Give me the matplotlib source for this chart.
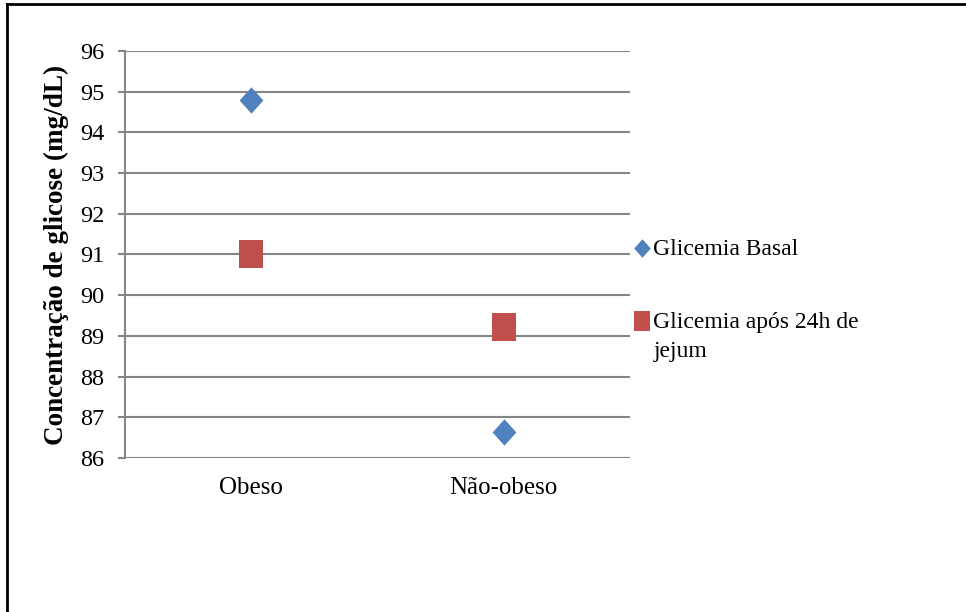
import matplotlib
matplotlib.use("Agg")
import matplotlib.pyplot as plt
from matplotlib.lines import Line2D
from matplotlib.offsetbox import HPacker

# Data
groups = ["Obeso", "Não-obeso"]
glicemia_basal = [94.8, 86.65]
glicemia_jejum = [91.0, 89.22]
series_labels = ["Glicemia Basal", "Glicemia após 24h de\njejum"]
y_ticks = list(range(86, 97))

BLUE = "#4F81BD"
RED = "#C0504D"
GRID = "#868686"

plt.rcParams["font.family"] = ["Liberation Serif", "DejaVu Serif"]

fig = plt.figure(figsize=(9.66, 6.12), dpi=100)
ax = fig.add_axes([125 / 966, 1 - 458 / 612, (630 - 125) / 966, (458 - 51) / 612])

# Custom marker shapes (slightly taller than wide)
diamond = [(0, 1), (0.9, 0), (0, -1), (-0.9, 0), (0, 1)]
square = [(-0.86, -1), (0.86, -1), (0.86, 1), (-0.86, 1), (-0.86, -1)]

x = [0.5, 1.5]
ax.plot(x, glicemia_basal, linestyle="none", marker=diamond, markersize=19,
        color=BLUE, markeredgewidth=0, label=series_labels[0], zorder=3)
ax.plot(x, glicemia_jejum, linestyle="none", marker=square, markersize=20,
        color=RED, markeredgewidth=0, label=series_labels[1], zorder=3)

ax.set_xlim(0, 2)
ax.set_ylim(86, 96)
ax.set_yticks(y_ticks)
ax.set_xticks(x)
ax.set_xticklabels(groups)
ax.yaxis.grid(True, color=GRID, linewidth=1.5)
ax.set_axisbelow(True)

for side in ["top", "right", "bottom"]:
    ax.spines[side].set_visible(False)
ax.spines["left"].set_color(GRID)
ax.spines["left"].set_linewidth(1.5)

ax.tick_params(axis="y", direction="out", length=5, width=1.5, color=GRID,
               labelsize=17.5, pad=10)
ax.tick_params(axis="x", length=0, labelsize=18, pad=14)

ax.set_ylabel("Concentração de glicose (mg/dL)", fontsize=19.5, fontweight="bold",
              labelpad=8)

leg = ax.legend(loc="upper left", bbox_to_anchor=(625 / 966, 1 - 230 / 612),
                bbox_transform=fig.transFigure, frameon=False, fontsize=17,
                handlelength=0.6, handletextpad=0.2, labelspacing=2.2,
                borderaxespad=0, markerscale=0.7)
for t in leg.get_texts():
    t.set_linespacing(1.5)
# Align each legend marker with the first line of its label
for packer in leg.findobj(match=HPacker):
    packer.align = "top"

# Outer chart border (left and top edges)
fig.add_artist(Line2D([7 / 966, 7 / 966], [0, 1 - 4 / 612], transform=fig.transFigure,
                      color="black", linewidth=2))
fig.add_artist(Line2D([7 / 966, 1], [1 - 4 / 612, 1 - 4 / 612], transform=fig.transFigure,
                      color="black", linewidth=2))

fig.savefig("out.png", dpi=100)
